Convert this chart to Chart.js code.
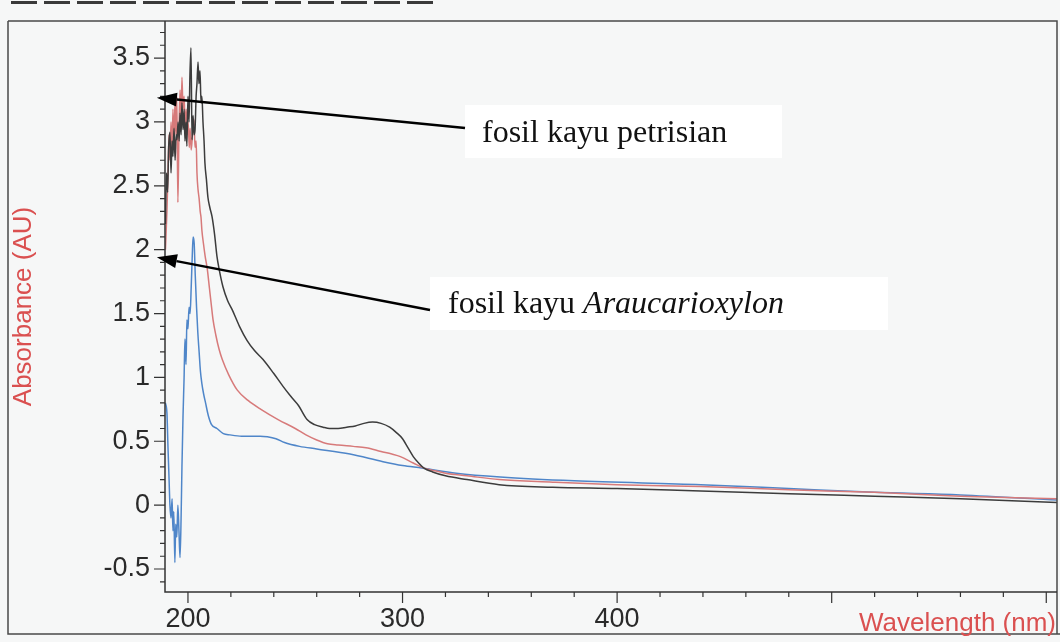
<!DOCTYPE html>
<html>
<head>
<meta charset="utf-8">
<title>UV-Vis absorbance spectra</title>
<script src="https://cdn.jsdelivr.net/npm/chart.js@4/dist/chart.umd.min.js"></script>
<style>
  html, body { margin: 0; padding: 0; background: #f6f7f7; }
  #wrap { width: 1060px; height: 642px; position: relative; }
</style>
</head>
<body>
<div id="wrap"><canvas id="c" width="1060" height="642"></canvas></div>
<script>
// ---- Spectra: wavelength (nm) and absorbance (AU) ----
const blackWl = [189.5,190.0,190.5,191.0,191.6,192.1,192.6,193.0,193.5,194.0,194.5,194.9,195.4,195.9,196.3,196.8,197.2,197.7,198.2,198.6,199.1,199.5,200.0,200.5,200.9,201.4,201.9,202.4,202.8,203.3,203.8,204.2,204.7,205.1,205.6,206.1,206.5,207.0,207.5,207.9,208.6,209.3,210.2,211.2,212.4,213.5,214.5,216.3,218.5,220.6,224,227.5,231,235,240,244.3,248,251.5,255.5,259,263,266,270,274,278,282,286,290,294,297,300,302.5,305,307.5,310,314,320,330,345,370,400,439,480,520,560,605];
const blackAbs = [2.2,2.6,2.45,2.8,2.92,2.6,2.85,2.73,2.95,2.7,2.9,2.86,3.0,2.85,3.07,2.9,3.15,2.94,3.1,2.85,3.0,2.81,3.2,3.0,3.35,3.58,2.86,3.05,2.9,2.94,3.2,3.3,3.47,3.3,3.4,3.15,3.2,3.0,2.85,2.68,2.55,2.41,2.33,2.26,2.12,1.95,1.85,1.71,1.6,1.53,1.4,1.29,1.21,1.14,1.03,0.93,0.85,0.78,0.67,0.63,0.61,0.6,0.6,0.61,0.62,0.64,0.65,0.64,0.61,0.57,0.52,0.45,0.38,0.33,0.29,0.26,0.23,0.2,0.16,0.14,0.13,0.11,0.09,0.07,0.05,0.02];

const redWl = [189.5,190.2,190.7,191.2,191.6,192.1,192.6,193.0,193.5,193.9,194.4,194.8,195.3,195.8,196.3,196.8,197.2,197.7,198.2,198.7,199.2,199.6,200.1,200.6,201.0,201.5,201.9,202.4,202.8,203.3,203.8,204.2,204.7,205.2,205.7,206.1,206.5,207.2,208.0,209.0,210.0,211.0,211.7,213,214.5,216,219,223,228,234,242,250,255,260,265,270,277,283,290,295,299,305,310,315,320,330,345,370,400,439,480,520,560,605];
const redAbs = [2.0,2.3,2.6,2.9,2.7,3.0,2.75,3.1,2.8,3.15,2.9,3.2,2.37,2.9,3.25,3.0,3.35,3.1,3.2,2.95,3.1,2.9,3.0,2.8,2.95,2.78,2.85,3.0,3.02,2.8,2.85,2.6,2.47,2.4,2.3,2.25,2.15,2.05,1.95,1.85,1.7,1.55,1.45,1.33,1.22,1.14,1.02,0.9,0.82,0.75,0.67,0.6,0.55,0.51,0.48,0.47,0.46,0.45,0.42,0.4,0.38,0.33,0.29,0.27,0.25,0.23,0.2,0.18,0.16,0.145,0.12,0.1,0.07,0.05];

const blueWl = [189.5,190.2,190.7,191.2,191.6,192.1,192.6,193.0,193.4,193.9,194.3,194.8,195.3,195.8,196.3,196.8,197.2,197.7,198.2,198.6,199.1,199.5,200.0,200.5,201.0,201.5,202.0,202.4,202.9,203.4,204.0,204.6,205.2,205.8,206.5,207.3,208.2,209.5,211,213.5,216.5,219.6,225,233.6,237,241,245,252,260,275.5,290.9,300,309,325,345.5,380,439,480,520,560,605];
const blueAbs = [0.8,0.72,0.45,0.2,0.0,-0.1,0.05,-0.2,-0.05,-0.45,-0.15,-0.25,0.0,-0.2,-0.41,-0.1,0.3,0.7,1.0,1.3,1.1,1.45,1.38,1.55,1.5,1.7,1.95,2.1,2.05,1.8,1.55,1.35,1.2,1.05,0.95,0.87,0.8,0.7,0.63,0.6,0.56,0.55,0.54,0.54,0.535,0.52,0.49,0.46,0.44,0.4,0.34,0.31,0.29,0.25,0.22,0.19,0.16,0.13,0.1,0.08,0.04];

// ---- Axes ----
const xTickValues = [200, 300, 400];
const xTickLabels = ['200', '300', '400'];
const xMajorMarks = [200, 300, 400, 500, 600];
const xMinorMarks = [200,220,240,260,280,300,320,340,360,380,400,420,440,460,480,500,520,540,560,580,600];
const yTickValues = [-0.5, 0, 0.5, 1, 1.5, 2, 2.5, 3, 3.5];
const yTickLabels = ['-0.5', '0', '0.5', '1', '1.5', '2', '2.5', '3', '3.5'];
const yMinorMarks = [-0.6,-0.5,-0.4,-0.3,-0.2,-0.1,0,0.1,0.2,0.3,0.4,0.5,0.6,0.7,0.8,0.9,1,1.1,1.2,1.3,1.4,1.5,1.6,1.7,1.8,1.9,2,2.1,2.2,2.3,2.4,2.5,2.6,2.7,2.8,2.9,3,3.1,3.2,3.3,3.4,3.5,3.6,3.7];
const xTitle = 'Wavelength (nm)';
const yTitle = 'Absorbance (AU)';

// ---- Callout labels with arrows pointing at the absorbance axis ----
const callouts = [
  { parts: [['fosil kayu petrisian', 'normal']], box: [465, 105, 782, 158], textX: 482, baseline: 142, tail: [465, 128], tipWl: 185.5, tipAbs: 3.19 },
  { parts: [['fosil kayu ', 'normal'], ['Araucarioxylon', 'italic']], box: [430, 277, 888, 330], textX: 448, baseline: 313, tail: [430, 310], tipWl: 185.5, tipAbs: 1.94 }
];

const toPoints = (xs, ys) => xs.map((x, i) => ({ x: x, y: ys[i] }));

const INK = '#2a2a2a';
const TITLE_RED = '#da5050';
const SANS = '"Liberation Sans", Arial, sans-serif';

const decor = {
  id: 'decor',
  beforeDraw(chart) {
    const ctx = chart.ctx;
    ctx.save();
    ctx.fillStyle = '#f6f7f7';
    ctx.fillRect(0, 0, chart.width, chart.height);
    ctx.restore();
  },
  afterDraw(chart) {
    const ctx = chart.ctx;
    const a = chart.chartArea;
    const xs = chart.scales.x, ys = chart.scales.y;
    ctx.save();

    // dashed rule above the figure
    ctx.strokeStyle = '#3a3a3a';
    ctx.lineWidth = 3;
    ctx.setLineDash([26, 7]);
    ctx.beginPath(); ctx.moveTo(11, 2.5); ctx.lineTo(440, 2.5); ctx.stroke();
    ctx.setLineDash([]);

    // outer frame
    ctx.strokeStyle = '#4a4a4a';
    ctx.lineWidth = 1.5;
    ctx.beginPath();
    ctx.moveTo(8, a.top); ctx.lineTo(a.right, a.top); ctx.lineTo(a.right, 634);
    ctx.moveTo(8, a.top); ctx.lineTo(8, 634); ctx.lineTo(chart.width, 634);
    ctx.stroke();

    // axis lines
    ctx.strokeStyle = '#333';
    ctx.lineWidth = 1.5;
    ctx.beginPath();
    ctx.moveTo(a.left, a.top); ctx.lineTo(a.left, a.bottom); ctx.lineTo(a.right, a.bottom);
    ctx.stroke();

    // tick marks
    ctx.lineWidth = 1.2;
    ctx.beginPath();
    xMinorMarks.forEach(v => { const p = xs.getPixelForValue(v); ctx.moveTo(p, a.bottom); ctx.lineTo(p, a.bottom + 5); });
    xMajorMarks.forEach(v => { const p = xs.getPixelForValue(v); ctx.moveTo(p, a.bottom); ctx.lineTo(p, a.bottom + 11); });
    yMinorMarks.forEach(v => { const p = ys.getPixelForValue(v); ctx.moveTo(a.left, p); ctx.lineTo(a.left - 5, p); });
    yTickValues.forEach(v => { const p = ys.getPixelForValue(v); ctx.moveTo(a.left, p); ctx.lineTo(a.left - 11, p); });
    ctx.stroke();

    // axis titles
    ctx.fillStyle = TITLE_RED;
    ctx.font = '26px ' + SANS;
    ctx.textAlign = 'right';
    ctx.textBaseline = 'alphabetic';
    ctx.fillText(xTitle, a.right - 1, 631);
    ctx.save();
    ctx.translate(31, (a.top + a.bottom) / 2);
    ctx.rotate(-Math.PI / 2);
    ctx.textAlign = 'center';
    ctx.fillText(yTitle, 0, 0);
    ctx.restore();

    // callouts
    callouts.forEach(c => {
      const [x0, y0, x1, y1] = c.box;
      ctx.fillStyle = '#ffffff';
      ctx.fillRect(x0, y0, x1 - x0, y1 - y0);
      ctx.fillStyle = '#111';
      ctx.textAlign = 'left';
      let tx = c.textX;
      c.parts.forEach(([t, style]) => {
        ctx.font = style + ' 32px "Liberation Serif", "Times New Roman", serif';
        ctx.fillText(t, tx, c.baseline);
        tx += ctx.measureText(t).width;
      });
      const tipX = xs.getPixelForValue(c.tipWl);
      const tipY = ys.getPixelForValue(c.tipAbs);
      const [sx, sy] = c.tail;
      const ang = Math.atan2(tipY - sy, tipX - sx);
      const hl = 20, hw = 7;
      const bx = tipX - hl * Math.cos(ang), by = tipY - hl * Math.sin(ang);
      ctx.strokeStyle = '#000';
      ctx.lineWidth = 2.5;
      ctx.beginPath(); ctx.moveTo(sx, sy); ctx.lineTo(bx, by); ctx.stroke();
      ctx.fillStyle = '#000';
      ctx.beginPath();
      ctx.moveTo(tipX, tipY);
      ctx.lineTo(bx + hw * Math.sin(ang), by - hw * Math.cos(ang));
      ctx.lineTo(bx - hw * Math.sin(ang), by + hw * Math.cos(ang));
      ctx.closePath(); ctx.fill();
    });

    ctx.restore();
  }
};

const lineStyle = (color) => ({
  borderColor: color,
  backgroundColor: color,
  borderWidth: 1.5,
  pointRadius: 0,
  fill: false,
  cubicInterpolationMode: 'monotone'
});

new Chart(document.getElementById('c'), {
  type: 'line',
  data: {
    datasets: [
      Object.assign({ label: 'fosil kayu petrisian', data: toPoints(blackWl, blackAbs) }, lineStyle('#3c3c3c')),
      Object.assign({ label: 'merah', data: toPoints(redWl, redAbs) }, lineStyle('#d77a7a')),
      Object.assign({ label: 'fosil kayu Araucarioxylon', data: toPoints(blueWl, blueAbs) }, lineStyle('#4f86c9'))
    ]
  },
  options: {
    responsive: false,
    animation: false,
    devicePixelRatio: 1,
    layout: { padding: { top: 21, right: 3, left: 0, bottom: 0 } },
    plugins: { legend: { display: false }, tooltip: { enabled: false } },
    scales: {
      x: {
        type: 'linear',
        min: 189.3,
        max: 605,
        afterBuildTicks: s => { s.ticks = xTickValues.map(v => ({ value: v })); },
        afterFit: s => { s.height = 50; },
        border: { display: false },
        grid: { display: true, drawOnChartArea: false, drawTicks: true, tickLength: 10, tickColor: 'rgba(0,0,0,0)' },
        ticks: {
          padding: 1,
          maxRotation: 0,
          autoSkip: false,
          color: INK,
          font: { family: SANS, size: 27 },
          callback: v => xTickLabels[xTickValues.indexOf(v)]
        }
      },
      y: {
        type: 'linear',
        min: -0.68,
        max: 3.79,
        afterBuildTicks: s => { s.ticks = yTickValues.map(v => ({ value: v })); },
        afterFit: s => { s.width = 165; },
        border: { display: false },
        grid: { display: true, drawOnChartArea: false, drawTicks: true, tickLength: 11, tickColor: 'rgba(0,0,0,0)' },
        ticks: {
          padding: 4,
          autoSkip: false,
          color: INK,
          font: { family: SANS, size: 27 },
          callback: v => yTickLabels[yTickValues.indexOf(v)]
        }
      }
    }
  },
  plugins: [decor]
});
</script>
</body>
</html>
